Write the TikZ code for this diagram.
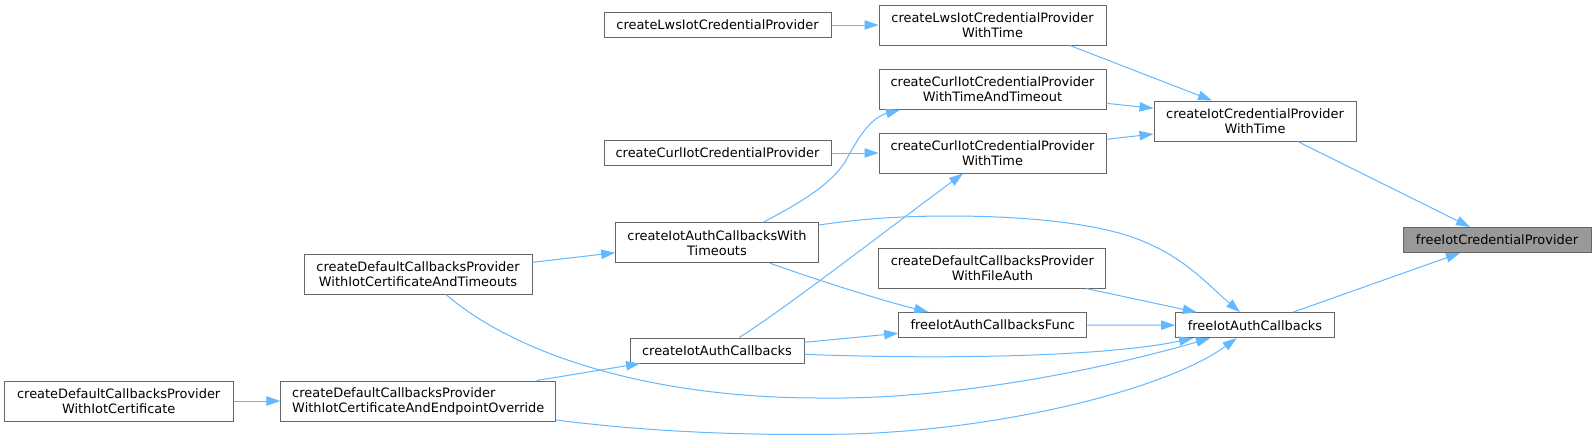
\documentclass[tikz,border=0pt]{standalone}
\usepackage{fontspec}
\setmainfont{DejaVu Sans}
\usetikzlibrary{arrows.meta}
\definecolor{edgeblue}{HTML}{63B8FF}
\definecolor{nodegray}{HTML}{666666}
\definecolor{hlgray}{HTML}{999999}
\begin{document}
\begin{tikzpicture}[x=0.75pt,y=-0.75pt,
 box/.style={draw=nodegray, fill=white, line width=0.75pt, inner sep=0pt, align=center, font=\fontsize{9.7pt}{11.25pt}\selectfont, text=black},
 box1/.style={box, minimum height=18.75pt},
 box2/.style={box, minimum height=30pt},
 edge/.style={draw=edgeblue, line width=0.75pt, -{Triangle[length=10.5pt,width=7pt]}}
]
\useasboundingbox[fill=white] (0,0) rectangle (1596,440);

\node[box1, minimum width=170.25pt] (lws) at (717.5,25) {createLwsIotCredentialProvider};
\node[box2, minimum width=170.25pt] (lwst) at (992.5,25) {createLwsIotCredentialProvider\\WithTime};
\node[box2, minimum width=170.25pt] (curlto) at (992.5,89.3) {createCurlIotCredentialProvider\\WithTimeAndTimeout};
\node[box1, minimum width=170.25pt] (curl) at (717.5,153) {createCurlIotCredentialProvider};
\node[box2, minimum width=170.25pt] (curlt) at (992.5,153) {createCurlIotCredentialProvider\\WithTime};
\node[box2, minimum width=151.5pt] (cipwt) at (1255,121) {createIotCredentialProvider\\WithTime};
\node[box1, minimum width=141pt, fill=hlgray] (ficp) at (1497,240) {freeIotCredentialProvider};
\node[box1, minimum width=119pt] (fiac) at (1255,325.2) {freeIotAuthCallbacks};
\node[box2, minimum width=152pt] (iacwt) at (717,242.7) {createIotAuthCallbacksWith\\Timeouts};
\node[box2, minimum width=170.25pt] (deffile) at (992.4,268) {createDefaultCallbacksProvider\\WithFileAuth};
\node[box1, minimum width=141.2pt] (fiacf) at (992.8,325) {freeIotAuthCallbacksFunc};
\node[box1, minimum width=130.5pt] (iac) at (717,350.5) {createIotAuthCallbacks};
\node[box2, minimum width=171pt] (deft) at (418,274) {createDefaultCallbacksProvider\\WithIotCertificateAndTimeouts};
\node[box2, minimum width=206pt, align=left] (defe) at (418.3,401) {createDefaultCallbacksProvider\\WithIotCertificateAndEndpointOverride};
\node[box2, minimum width=171.5pt] (defc) at (118.7,401) {createDefaultCallbacksProvider\\WithIotCertificate};

\draw[edge] (lws.east) -- (lwst.west);
\draw[edge] ([shift={(77.5,0)}]lwst.south) -- ([shift={(-43,0)}]cipwt.north);
\draw[edge] ([shift={(0,14)}]curlto.east) -- ([shift={(0,-12.7)}]cipwt.west);
\draw[edge] ([shift={(0,-13.7)}]curlt.east) -- ([shift={(0,13)}]cipwt.west);
\draw[edge] (curl.east) -- (curlt.west);
\draw[edge] ([shift={(42.7,0)}]cipwt.south) -- ([shift={(-27,0)}]ficp.north);
\draw[edge] ([shift={(38,0)}]fiac.north) -- ([shift={(-37,0)}]ficp.south);
\draw[edge] ([shift={(22.3,0)}]iac.north) .. controls (790,305) and (880,235) .. ([shift={(-29.5,0)}]curlt.south);
\draw[edge] ([shift={(46.3,0)}]iacwt.north) .. controls (800,203) and (830,185) .. (845,162) .. controls (858,138) and (870,118) .. ([shift={(-92.5,0)}]curlto.south);
\draw[edge] ([shift={(0,-17.7)}]iacwt.east) .. controls (860,219) and (900,216) .. (950,216) .. controls (1030,216) and (1100,224) .. (1140,240) .. controls (1185,258) and (1205,282) .. ([shift={(-15,0)}]fiac.north);
\draw[edge] ([shift={(53,0)}]iacwt.south) .. controls (820,281) and (880,300) .. ([shift={(-64.5,0)}]fiacf.north);
\draw[edge] ([shift={(93.6,0)}]deffile.south) -- ([shift={(-58.3,0)}]fiac.north);
\draw[edge] (fiacf.east) -- (fiac.west);
\draw[edge] ([shift={(0,-8.2)}]iac.east) -- ([shift={(0,8.3)}]fiacf.west);
\draw[edge] ([shift={(0,3.8)}]iac.east) .. controls (950,360) and (1110,356) .. ([shift={(-62,0)}]fiac.south);
\draw[edge] ([shift={(118.4,0)}]defe.north) -- ([shift={(-77,0)}]iac.south);
\draw[edge] ([shift={(28,0)}]deft.south) .. controls (510,350) and (640,398) .. (820,398) .. controls (950,400) and (1100,370) .. ([shift={(-45,0)}]fiac.south);
\draw[edge] ([shift={(0,19)}]defe.east) .. controls (650,432) and (750,436) .. (850,434) .. controls (1000,430) and (1165,390) .. ([shift={(-18.3,0)}]fiac.south);
\draw[edge] (defc.east) -- (defe.west);
\draw[edge] ([shift={(0,-11.7)}]deft.east) -- ([shift={(0,10)}]iacwt.west);
\end{tikzpicture}
\end{document}
